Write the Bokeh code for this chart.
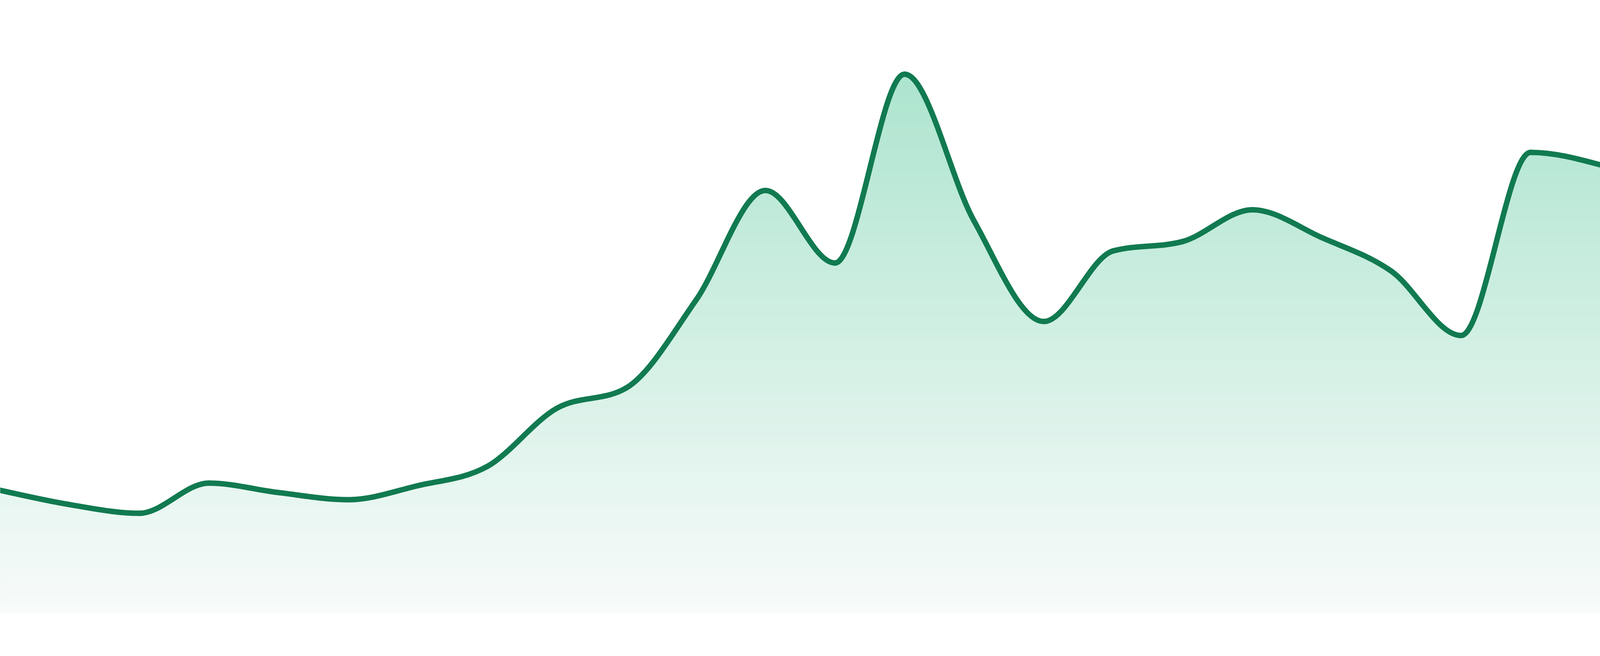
import numpy as np
from bokeh.plotting import figure
from bokeh.models import Range1d
from bokeh.embed import file_html
from bokeh.resources import INLINE

# 24 evenly spaced samples
periods = list(range(24))
values = [32.6, 28.8, 26.5, 34.5, 32.0, 30.1, 33.8, 38.9, 54.3, 59.7, 82.9, 112.0,
          92.8, 142.8, 103.9, 77.3, 96.0, 98.5, 106.9, 99.5, 90.6, 73.6, 122.1, 118.8]

LINE_COLOR = "#117a50"
FILL_TOP = (172, 228, 206)
FILL_BOTTOM = (248, 251, 250)


def monotone_tangents(x, y):
    # same tangent rule as d3.curveMonotoneX
    n = len(x)
    t = np.zeros(n)
    for i in range(1, n - 1):
        h0, h1 = x[i] - x[i - 1], x[i + 1] - x[i]
        s0, s1 = (y[i] - y[i - 1]) / h0, (y[i + 1] - y[i]) / h1
        p = (s0 * h1 + s1 * h0) / (h0 + h1)
        sg = (-1 if s0 < 0 else 1) + (-1 if s1 < 0 else 1)
        t[i] = sg * min(abs(s0), abs(s1), 0.5 * abs(p))
    t[0] = (3 * (y[1] - y[0]) / (x[1] - x[0]) - t[1]) / 2
    t[-1] = (3 * (y[-1] - y[-2]) / (x[-1] - x[-2]) - t[-2]) / 2
    return t


x = np.array(periods, dtype=float)
y = np.array(values, dtype=float)
tan = monotone_tangents(x, y)
dx = np.diff(x) / 3
x0, x1 = x[:-1], x[1:]
y0, y1 = y[:-1], y[1:]
cx0, cy0 = x0 + dx, y0 + dx * tan[:-1]
cx1, cy1 = x1 - dx, y1 - dx * tan[1:]

# sample the same bezier segments for the gradient area
u = np.linspace(0, 1, 48)[:, None]
bx = (1 - u) ** 3 * x0 + 3 * (1 - u) ** 2 * u * cx0 + 3 * (1 - u) * u ** 2 * cx1 + u ** 3 * x1
by = (1 - u) ** 3 * y0 + 3 * (1 - u) ** 2 * u * cy0 + 3 * (1 - u) * u ** 2 * cy1 + u ** 3 * y1
area_x = bx.T.ravel()
area_y = by.T.ravel()

# width follows the window, height is the visible window minus the page margin
p = figure(sizing_mode="stretch_width", height=1609,
           x_range=Range1d(0, 23), y_range=Range1d(-4.0, 162.4),
           x_axis_type=None, y_axis_type=None, toolbar_location=None,
           output_backend="svg", min_border=0)
p.outline_line_color = None
p.background_fill_color = "white"
p.border_fill_color = "white"

# vertical gradient: stacked bands, tallest first, each covering from the baseline
top = max(values) + 2
n_bands = 120
for k in range(n_bands):
    hi = top * (1 - k / n_bands)
    mid = hi - top / n_bands / 2
    f = max(mid, 0) / top
    col = tuple(int(round(FILL_BOTTOM[j] + (FILL_TOP[j] - FILL_BOTTOM[j]) * f)) for j in range(3))
    p.varea(x=area_x, y1=np.zeros_like(area_y), y2=np.minimum(area_y, hi),
            fill_color="#%02x%02x%02x" % col)

p.bezier(x0=x0, y0=y0, x1=x1, y1=y1, cx0=cx0, cy0=cy0, cx1=cx1, cy1=cy1,
         line_color=LINE_COLOR, line_width=14, line_cap="round")

open("out.html", "w").write(file_html(p, INLINE))
